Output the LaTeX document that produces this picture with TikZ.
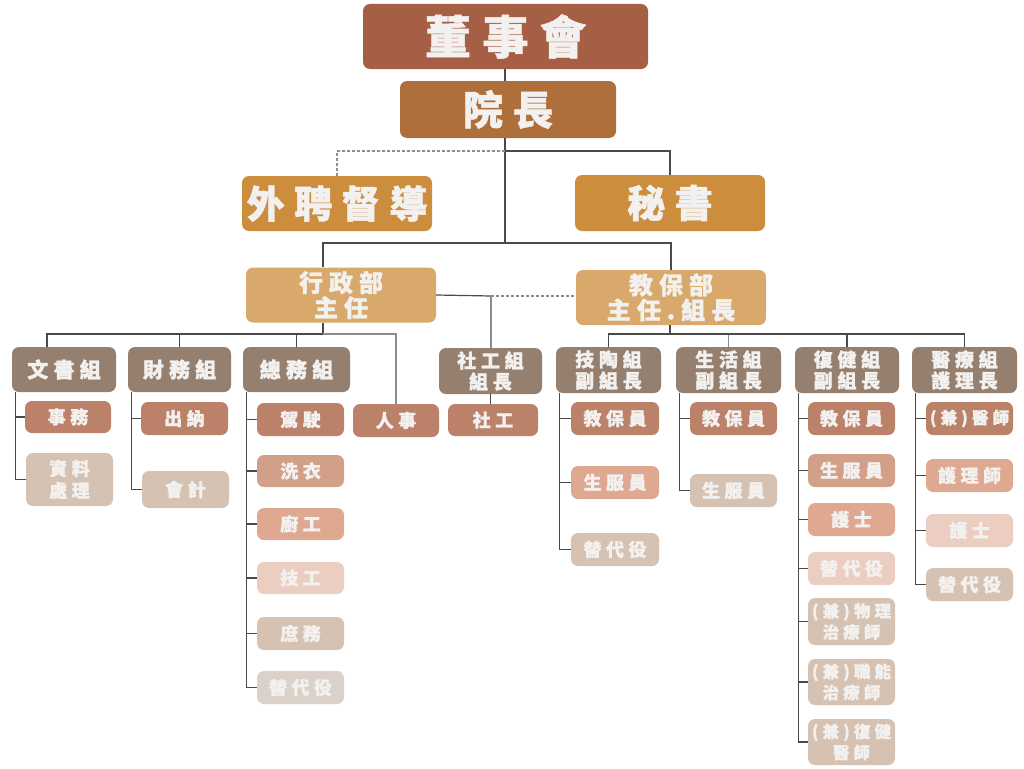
\documentclass[tikz,border=0pt]{standalone}
\usepackage{fontspec}
\newfontfamily\cjk{Noto Sans CJK TC}[LetterSpace=25, FakeBold=1.2]
\definecolor{cBoard}{HTML}{A65E45}
\definecolor{cDean}{HTML}{AF6F3A}
\definecolor{cSec}{HTML}{CC8E3C}
\definecolor{cDept}{HTML}{D8A96A}
\definecolor{cGrp}{HTML}{958070}
\definecolor{cA}{HTML}{BC8169}
\definecolor{cB}{HTML}{D29F89}
\definecolor{cC}{HTML}{DEA891}
\definecolor{cD}{HTML}{EBCDC1}
\definecolor{cE}{HTML}{D6C2B2}
\definecolor{cF}{HTML}{DCD1C8}
\definecolor{txt}{HTML}{F3F1EF}
\definecolor{ln}{HTML}{4A4A4A}
\definecolor{lnl}{HTML}{8C8C8C}
\tikzset{
  box/.style={rounded corners=7pt, inner sep=0pt, align=center, text=txt},
  topbox/.style={box, font=\cjk\bfseries\fontsize{46pt}{48pt}\selectfont},
  midbox/.style={box, font=\cjk\bfseries\fontsize{38pt}{40pt}\selectfont},
  deptbox/.style={box, fill=cDept, minimum width=190pt, minimum height=55pt, font=\cjk\bfseries\fontsize{24pt}{25pt}\selectfont},
  grpbox/.style={box, fill=cGrp, minimum height=45pt, font=\cjk\bfseries\fontsize{21pt}{22pt}\selectfont},
  grpsm/.style={box, fill=cGrp, minimum height=46pt, font=\cjk\bfseries\fontsize{19pt}{21pt}\selectfont},
  kid/.style={box, minimum width=87pt, minimum height=33pt, font=\cjk\bfseries\fontsize{18pt}{22pt}\selectfont},
  kidsm/.style={box, minimum width=87pt, minimum height=46pt, font=\cjk\bfseries\fontsize{16.5pt}{21pt}\selectfont},
  conn/.style={draw=ln, line width=1.2pt},
  connl/.style={draw=lnl, line width=1.2pt},
}
\begin{document}
\begin{tikzpicture}[x=1pt,y=-1pt]
\fill[white] (0,0) rectangle (1024,768);
% top levels
\node[topbox, fill=cBoard, minimum width=285pt, minimum height=65pt] (board) at (505.5,36.5) {董事會};
\node[topbox, fill=cDean, minimum width=216pt, minimum height=57pt, font=\cjk\bfseries\fontsize{40pt}{42pt}\selectfont] (dean) at (508,109.5) {院長};
\node[midbox, fill=cSec, minimum width=190pt, minimum height=55pt] (sup) at (337,203.5) {外聘督導};
\node[midbox, fill=cSec, minimum width=190pt, minimum height=56pt] (sec) at (670,203) {秘書};
\node[deptbox] (admin) at (341,295) {行政部\\主任};
\node[deptbox] (edu) at (671,297.5) {教保部\\主任.組長};
% groups
\node[grpbox, minimum width=104pt] (wenshu) at (64,369.5) {文書組};
\node[grpbox, minimum width=103pt] (caiwu) at (179.5,369.5) {財務組};
\node[grpbox, minimum width=107pt] (zongwu) at (296.5,369.5) {總務組};
\node[grpsm, minimum width=103pt] (social) at (490.5,371) {社工組\\組長};
\node[grpsm, minimum width=105pt] (jitao) at (608.5,370) {技陶組\\副組長};
\node[grpsm, minimum width=105pt] (shenghuo) at (728.5,370) {生活組\\副組長};
\node[grpsm, minimum width=104pt] (fujian) at (847,370) {復健組\\副組長};
\node[grpsm, minimum width=105pt] (yiliao) at (964.5,370) {醫療組\\護理長};
% 文書組
\node[kid, fill=cA, minimum width=86pt, minimum height=32pt] (shiwu) at (68,417) {事務};
\node[kid, fill=cE, minimum height=53pt] (ziliao) at (69.5,479.5) {資料\\處理};
% 財務組
\node[kid, fill=cA] (chuna) at (184.5,418.5) {出納};
\node[kid, fill=cE, minimum height=37pt] (kuaiji) at (185.5,489.5) {會計};
% 總務組
\node[kid, fill=cA] (zw1) at (300.5,419.5) {駕駛};
\node[kid, fill=cB, minimum height=32pt] (zw2) at (300.5,471) {洗衣};
\node[kid, fill=cC, minimum height=32pt] (zw3) at (300.5,524) {廚工};
\node[kid, fill=cD, minimum height=32pt] (zw4) at (300.5,578) {技工};
\node[kid, fill=cE] (zw5) at (300.5,633.5) {庶務};
\node[kid, fill=cF] (zw6) at (300.5,687.5) {替代役};
% 人事 / 社工
\node[kid, fill=cA, minimum width=86pt] (renshi) at (396,420.5) {人事};
\node[kid, fill=cA, minimum width=90pt, minimum height=32pt] (shegong) at (493,420) {社工};
% 技陶組
\node[kid, fill=cA, minimum width=88pt] (jt1) at (615,418.5) {教保員};
\node[kid, fill=cC, minimum width=88pt] (jt2) at (615,482.5) {生服員};
\node[kid, fill=cE, minimum width=88pt] (jt3) at (615,549.5) {替代役};
% 生活組
\node[kid, fill=cA] (sh1) at (733.5,418.5) {教保員};
\node[kid, fill=cE] (sh2) at (733.5,490.5) {生服員};
% 復健組
\node[kid, fill=cA] (fj1) at (851.5,418.5) {教保員};
\node[kid, fill=cB] (fj2) at (851.5,470.5) {生服員};
\node[kid, fill=cC] (fj3) at (851.5,519.5) {護士};
\node[kid, fill=cD] (fj4) at (851.5,568.5) {替代役};
\node[kidsm, fill=cE, minimum height=47pt] (fj5) at (851.5,621.5) {(兼)物理\\治療師};
\node[kidsm, fill=cE] (fj6) at (851.5,682) {(兼)職能\\治療師};
\node[kidsm, fill=cE] (fj7) at (851.5,742) {(兼)復健\\醫師};
% 醫療組
\node[kid, fill=cA, font=\cjk\bfseries\fontsize{16.5pt}{20pt}\selectfont] (yl1) at (969.5,418.5) {(兼)醫師};
\node[kid, fill=cC] (yl2) at (969.5,475.5) {護理師};
\node[kid, fill=cD] (yl3) at (969.5,530.5) {護士};
\node[kid, fill=cE] (yl4) at (969.5,584.5) {替代役};
% coordinates
\coordinate (j1) at (505,151);
\coordinate (j2) at (505,243);
\coordinate (a0) at (323,334);
\coordinate (e0) at (670,334);
\coordinate (s0) at (491,296);
% top connectors
\draw[conn] (board.south -| j1) -- (j1 |- dean.north);
\draw[conn] (j1 |- dean.south) -- (j2);
\draw[connl, dash pattern=on 3pt off 2pt] (j1) -| (sup.north);
\draw[conn] (j1) -| (sec.north);
\draw[conn] (j2) -| (a0 |- admin.north);
\draw[conn] (j2) -| (edu.north);
% admin bus
\draw[draw=ln, line width=2.4pt] (a0 |- admin.south) -- (a0);
\draw[conn] (a0) -| ([xshift=-17pt]wenshu.north);
\draw[conn] (a0) -| (caiwu.north);
\draw[conn] (a0) -| (zongwu.north);
\draw[connl] (a0) -| (renshi.north);
% social branch
\draw[conn] (admin.east) -- (s0);
\draw[connl, dash pattern=on 3pt off 2pt] (s0) -- (s0 -| edu.west);
\draw[connl] (s0) -- (s0 |- social.north);
\draw[conn] (social.south) -- (social.south |- shegong.north);
% edu bus
\draw[draw=ln, line width=2.4pt] (e0 |- edu.south) -- (e0);
\draw[conn] (e0) -| (jitao.north);
\draw[connl] (e0) -| (shenghuo.north);
\draw[conn] (e0) -| (fujian.north);
\draw[conn] (e0) -| (yiliao.north);
% children
\foreach \g/\c in {wenshu/shiwu, wenshu/ziliao, caiwu/chuna, caiwu/kuaiji,
  zongwu/zw1, zongwu/zw2, zongwu/zw3, zongwu/zw4, zongwu/zw5, zongwu/zw6,
  jitao/jt1, jitao/jt2, jitao/jt3, shenghuo/sh1, shenghuo/sh2,
  fujian/fj1, fujian/fj2, fujian/fj3, fujian/fj4, fujian/fj5, fujian/fj6, fujian/fj7,
  yiliao/yl1, yiliao/yl2, yiliao/yl3, yiliao/yl4}
  \draw[conn] ([xshift=4pt]\g.south west) |- (\c.west);
\end{tikzpicture}
\end{document}
